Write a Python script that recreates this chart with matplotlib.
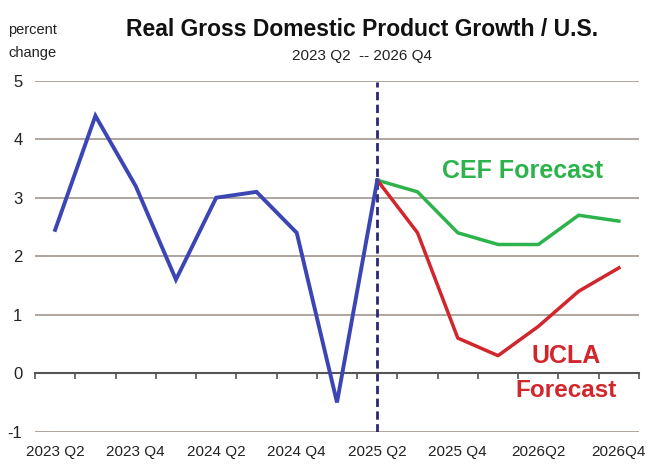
import matplotlib
matplotlib.use("Agg")
import matplotlib.pyplot as plt
import numpy as np

quarters = ["2023 Q2", "2023 Q3", "2023 Q4", "2024 Q1", "2024 Q2", "2024 Q3",
            "2024 Q4", "2025 Q1", "2025 Q2", "2025 Q3", "2025 Q4", "2026 Q1",
            "2026Q2", "2026 Q3", "2026Q4"]
tick_labels = ["2023 Q2", "2023 Q4", "2024 Q2", "2024 Q4", "2025 Q2",
               "2025 Q4", "2026Q2", "2026Q4"]
actual = [2.45, 4.4, 3.2, 1.6, 3.0, 3.1, 2.4, -0.5, 3.3]
cef_forecast = [3.3, 3.1, 2.4, 2.2, 2.2, 2.7, 2.6]
ucla_forecast = [3.3, 2.4, 0.6, 0.3, 0.8, 1.4, 1.8]
forecast_start = "2025 Q2"

plt.rcParams["font.family"] = ["Liberation Sans", "DejaVu Sans"]

W, H = 647, 466
fig = plt.figure(figsize=(W / 100, H / 100), dpi=100)
fig.patch.set_facecolor("white")
ax = fig.add_axes([35 / W, (H - 431.7) / H, 604 / W, 351 / H])

x_all = np.arange(len(quarters))
i0 = quarters.index(forecast_start)
x_act = x_all[:len(actual)]
x_fc = x_all[i0:i0 + len(cef_forecast)]

ax.set_xlim(-0.5, len(quarters) - 0.5)
ax.set_ylim(-1, 5)

# gridlines
for yv in range(-1, 6):
    if yv == 0:
        continue
    ax.axhline(yv, color="#a89e97", lw=1.3, zorder=1)

for s in ["top", "right", "left"]:
    ax.spines[s].set_visible(False)
ax.spines["bottom"].set_position(("data", 0))
ax.spines["bottom"].set_color("#555555")
ax.spines["bottom"].set_linewidth(1.5)

ax.set_xticks(np.arange(-0.5, len(quarters), 1.0))
ax.tick_params(axis="x", direction="out", length=4, width=1.2, color="#555555",
               labelbottom=False)
ax.set_yticks(range(-1, 6))
ax.set_yticklabels([str(v) for v in range(-1, 6)], fontsize=12, color="#222222")
ax.tick_params(axis="y", length=0, pad=9)

for lab in tick_labels:
    ax.text(quarters.index(lab), -1.22, lab, ha="center", va="top",
            fontsize=11, color="#222222")

ax.axvline(i0, ymin=0, ymax=0.995, color="#2a2775", lw=2, ls=(0, (3, 1.6)), zorder=2)

ax.plot(x_act, actual, color="#3b45b4", lw=2.8, zorder=4, solid_joinstyle="miter")
ax.plot(x_fc, cef_forecast, color="#2cb34c", lw=2.5, zorder=3)
ax.plot(x_fc, ucla_forecast, color="#d0262c", lw=2.5, zorder=3)

ax.text(11.62, 3.45, "CEF Forecast", color="#2cb34c", fontsize=18,
        fontweight="bold", ha="center", va="center")
ax.text(12.69, 0.30, "UCLA", color="#d0262c", fontsize=18,
        fontweight="bold", ha="center", va="center")
ax.text(12.69, -0.29, "Forecast", color="#d0262c", fontsize=17.5,
        fontweight="bold", ha="center", va="center")

fig.text(362 / W, 1 - 29 / H, "Real Gross Domestic Product Growth / U.S.",
         ha="center", va="center", fontsize=16.5, fontweight="bold", color="#111111")
fig.text(362 / W, 1 - 56 / H, "2023 Q2  -- 2026 Q4", ha="center", va="center",
         fontsize=11, color="#222222")
fig.text(8 / W, 1 - 30 / H, "percent", ha="left", va="center", fontsize=10.5,
         color="#222222")
fig.text(8 / W, 1 - 53 / H, "change", ha="left", va="center", fontsize=10.5,
         color="#222222")

fig.savefig("out.png", dpi=100, facecolor="white")
